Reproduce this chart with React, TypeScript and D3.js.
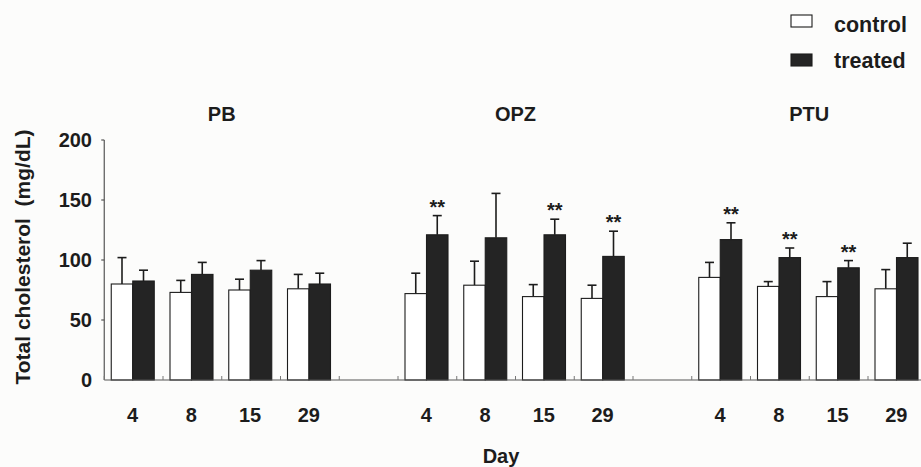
import React from 'react';
import * as d3 from 'd3';

// ---- data ----
const panels = ['PB', 'OPZ', 'PTU'];
const days = ['4', '8', '15', '29'];
const seriesNames = ['control', 'treated'];
const yTicks = [0, 50, 100, 150, 200];

const pbControlMean = [80, 73, 75, 76];
const pbControlSD = [22, 10, 9, 12];
const pbTreatedMean = [82.5, 88, 91.5, 80];
const pbTreatedSD = [9, 10, 8, 9];
const pbTreatedSig = [false, false, false, false];

const opzControlMean = [72, 79, 69.5, 68];
const opzControlSD = [17, 20, 10, 11];
const opzTreatedMean = [121, 118.5, 121, 103];
const opzTreatedSD = [16, 37, 13, 21];
const opzTreatedSig = [true, false, true, true];

const ptuControlMean = [85.5, 78, 69.5, 76];
const ptuControlSD = [12.5, 4, 12.5, 16];
const ptuTreatedMean = [117, 102, 93.5, 102];
const ptuTreatedSD = [14, 8, 6, 12];
const ptuTreatedSig = [true, true, true, false];

const panelData = [
  { cm: pbControlMean, cs: pbControlSD, tm: pbTreatedMean, ts: pbTreatedSD, sig: pbTreatedSig },
  { cm: opzControlMean, cs: opzControlSD, tm: opzTreatedMean, ts: opzTreatedSD, sig: opzTreatedSig },
  { cm: ptuControlMean, cs: ptuControlSD, tm: ptuTreatedMean, ts: ptuTreatedSD, sig: ptuTreatedSig },
];

// ---- layout ----
const W = 921;
const H = 467;
const axisX = 104.25;
const slotW = 58.75;
const font = '"Liberation Sans", Arial, Helvetica, sans-serif';
const ink = '#1c1c1c';

export default function App() {
  const slots: string[] = [];
  panels.forEach((p, i) => {
    days.forEach((d) => slots.push(`${p}-${d}`));
    if (i < panels.length - 1) slots.push(`gap-${i}`);
  });
  const x = d3.scaleBand<string>().domain(slots).range([axisX, axisX + slots.length * slotW]).padding(0);
  const inner = d3.scaleBand<string>().domain(seriesNames).range([7, 50]).padding(0);
  const y = d3.scaleLinear().domain([0, 200]).range([380, 140]);
  const bw = inner.bandwidth();

  const bars: any[] = [];
  panels.forEach((p, pi) => {
    const pd = panelData[pi];
    days.forEach((d, di) => {
      const s0 = x(`${p}-${d}`)!;
      bars.push({ key: `${p}-${d}-c`, x: s0 + inner('control')!, mean: pd.cm[di], sd: pd.cs[di], fill: '#ffffff', sig: false });
      bars.push({ key: `${p}-${d}-t`, x: s0 + inner('treated')!, mean: pd.tm[di], sd: pd.ts[di], fill: '#242424', sig: pd.sig[di] });
    });
  });

  const boundaryTicks: number[] = [];
  panels.forEach((p) => {
    const s0 = x(`${p}-${days[0]}`)!;
    for (let k = 0; k <= days.length; k++) boundaryTicks.push(s0 + k * slotW);
  });

  return (
    <svg width={W} height={H} style={{ position: 'absolute', left: 0, top: 0, background: '#fcfcfb' }} fontFamily={font}>
      <rect x={0} y={0} width={W} height={H} fill="#fcfcfb" />
      {/* y axis */}
      <line x1={axisX} x2={axisX} y1={y(200)} y2={y(0)} stroke="#555" strokeWidth={1.2} />
      {yTicks.map((t) => (
        <g key={t}>
          {t > 0 && <line x1={axisX - 3} x2={axisX} y1={y(t)} y2={y(t)} stroke="#555" strokeWidth={1.2} />}
          <text x={92} y={y(t)} dy="0.36em" textAnchor="end" fontSize={20} fontWeight="bold" fill={ink}>
            {t}
          </text>
        </g>
      ))}
      <text
        transform={`translate(22,${257}) rotate(-90)`}
        textAnchor="middle"
        dy="0.36em"
        fontSize={21}
        fontWeight="bold"
        fill={ink}
        style={{ whiteSpace: 'pre' }}
      >
        {'Total cholesterol  (mg/dL)'}
      </text>

      {/* bars */}
      {bars.map((b) => (
        <g key={b.key}>
          <line x1={b.x + bw / 2} x2={b.x + bw / 2} y1={y(b.mean)} y2={y(b.mean + b.sd)} stroke={ink} strokeWidth={1.6} />
          <line x1={b.x + bw / 2 - 4.5} x2={b.x + bw / 2 + 4.5} y1={y(b.mean + b.sd)} y2={y(b.mean + b.sd)} stroke={ink} strokeWidth={1.6} />
          <rect x={b.x} y={y(b.mean)} width={bw} height={y(0) - y(b.mean)} fill={b.fill} stroke={ink} strokeWidth={1.1} />
          {b.sig && (
            <text x={b.x + bw / 2} y={y(b.mean + b.sd) - 2} textAnchor="middle" fontSize={20} fontWeight="bold" fill={ink}>
              **
            </text>
          )}
        </g>
      ))}

      {/* x axis */}
      <line x1={axisX} x2={W} y1={y(0)} y2={y(0)} stroke="#555" strokeWidth={1.2} />
      {boundaryTicks.map((t, i) => (
        <line key={i} x1={t} x2={t} y1={y(0)} y2={y(0) - 4} stroke="#777" strokeWidth={1} />
      ))}
      {panels.map((p) =>
        days.map((d) => (
          <text key={`${p}-${d}-lbl`} x={x(`${p}-${d}`)! + slotW / 2 - 1} y={422} textAnchor="middle" fontSize={20} fontWeight="bold" fill={ink}>
            {d}
          </text>
        ))
      )}
      {panels.map((p) => (
        <text key={p} x={x(`${p}-${days[0]}`)! + (days.length * slotW) / 2} y={121} textAnchor="middle" fontSize={20} fontWeight="bold" fill={ink}>
          {p}
        </text>
      ))}
      <text x={501} y={463} textAnchor="middle" fontSize={20} fontWeight="bold" fill={ink}>
        Day
      </text>

      {/* legend */}
      {seriesNames.map((s, i) => (
        <g key={s}>
          <rect x={791} y={15 + i * 39} width={21} height={12} fill={i === 0 ? '#ffffff' : '#242424'} stroke={ink} strokeWidth={1.1} />
          <text x={834} y={32 + i * 36} fontSize={21.5} fontWeight="bold" fill={ink}>
            {s}
          </text>
        </g>
      ))}
    </svg>
  );
}
